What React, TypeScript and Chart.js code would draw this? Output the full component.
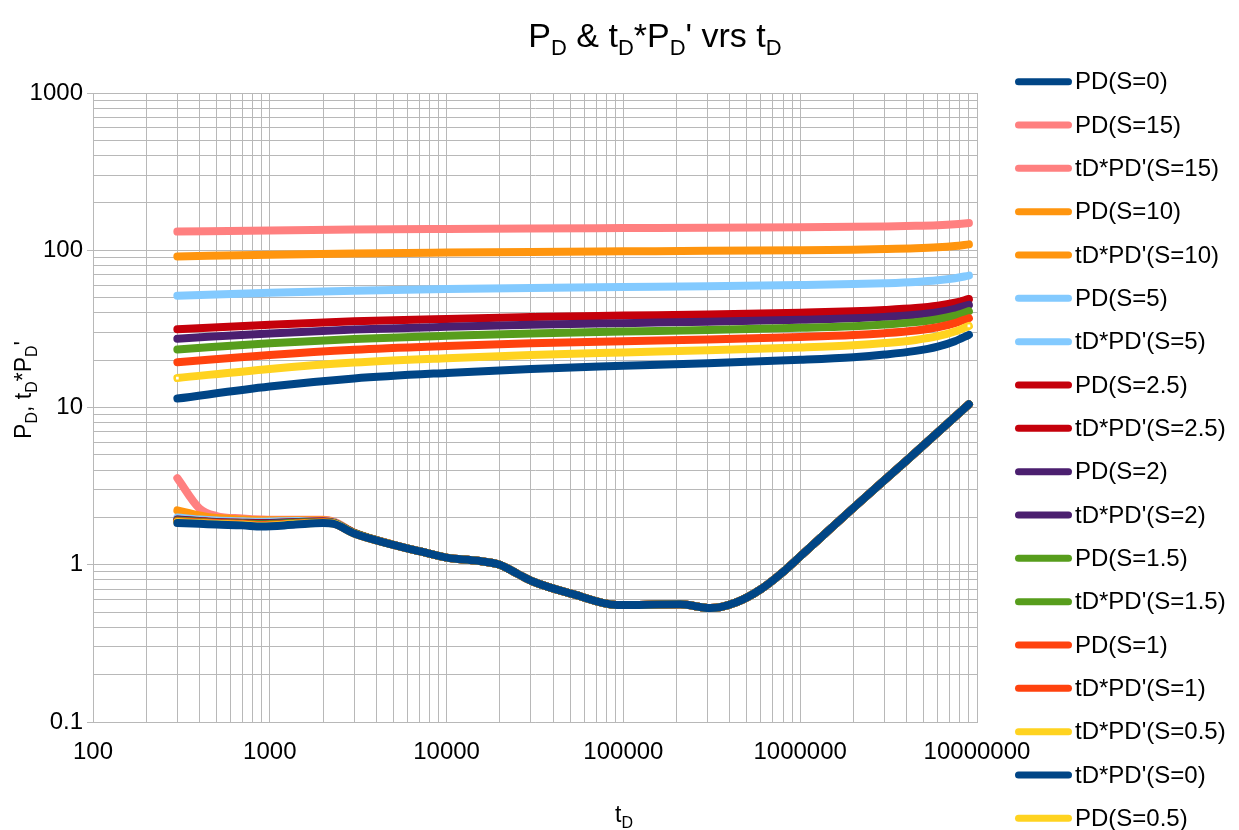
import React, { useEffect, useRef } from 'react';
import { Chart, registerables } from 'chart.js';

Chart.register(...registerables);

const FONT = '"Liberation Sans", Arial, Helvetica, sans-serif';

// Axis ticks
const X_MAJOR = [100, 1000, 10000, 100000, 1000000, 10000000];
const X_LABELS = ['100', '1000', '10000', '100000', '1000000', '10000000'];
const Y_MAJOR = [0.1, 1, 10, 100, 1000];
const Y_LABELS = ['0.1', '1', '10', '100', '1000'];

// PD curves (dimensionless pressure) sampled at these tD values
const TD_PD = [300, 1000, 3000, 10000, 30000, 100000, 300000, 1000000, 2000000, 3000000, 4500000, 6000000, 7500000, 9000000];
const PD_S0 = [11.4, 13.6, 15.3, 16.6, 17.6, 18.4, 19.1, 20.1, 20.9, 21.7, 22.9, 24.4, 26.4, 29.0];
const PD_S0_5 = [15.4, 17.6, 19.3, 20.6, 21.6, 22.4, 23.1, 24.1, 24.9, 25.7, 26.9, 28.4, 30.4, 33.0];
const PD_S1 = [19.4, 21.6, 23.3, 24.6, 25.6, 26.4, 27.1, 28.1, 28.9, 29.7, 30.9, 32.4, 34.4, 37.0];
const PD_S1_5 = [23.4, 25.6, 27.3, 28.6, 29.6, 30.4, 31.1, 32.1, 32.9, 33.7, 34.9, 36.4, 38.4, 41.0];
const PD_S2 = [27.4, 29.6, 31.3, 32.6, 33.6, 34.4, 35.1, 36.1, 36.9, 37.7, 38.9, 40.4, 42.4, 45.0];
const PD_S2_5 = [31.4, 33.6, 35.3, 36.6, 37.6, 38.4, 39.1, 40.1, 40.9, 41.7, 42.9, 44.4, 46.4, 49.0];
const PD_S5 = [51.4, 53.6, 55.3, 56.6, 57.6, 58.4, 59.1, 60.1, 60.9, 61.7, 62.9, 64.4, 66.4, 69.0];
const PD_S10 = [91.4, 93.6, 95.3, 96.6, 97.6, 98.4, 99.1, 100.1, 100.9, 101.7, 102.9, 104.4, 106.4, 109.0];
const PD_S15 = [131.4, 133.6, 135.3, 136.6, 137.6, 138.4, 139.1, 140.1, 140.9, 141.7, 142.9, 144.4, 146.4, 149.0];

// Derivative curves tD*PD' sampled at these tD values
const TD_DER = [300, 400, 500, 700, 900, 1400, 2000, 2300, 3000, 5000, 7000, 10000, 15000, 20000, 25000, 31000, 52000, 92000, 210000, 310000, 440000, 600000, 800000, 1000000, 1300000, 2000000, 4000000, 9000000];
// common late-time part (from tD = 5000 on)
const DER_TAIL = [1.34, 1.22, 1.11, 1.06, 1.00, 0.88, 0.78, 0.65, 0.555, 0.56, 0.53, 0.58, 0.70, 0.90, 1.13, 1.48, 2.3, 4.6, 10.5];
const DER_S0 = [1.84, 1.82, 1.80, 1.78, 1.75, 1.80, 1.84, 1.82, 1.58, ...DER_TAIL];
const DER_S0_5 = [1.87, 1.84, 1.82, 1.80, 1.77, 1.82, 1.85, 1.83, 1.58, ...DER_TAIL];
const DER_S1 = [1.89, 1.86, 1.84, 1.82, 1.79, 1.83, 1.86, 1.83, 1.58, ...DER_TAIL];
const DER_S1_5 = [1.91, 1.88, 1.85, 1.83, 1.81, 1.85, 1.87, 1.84, 1.59, ...DER_TAIL];
const DER_S2 = [1.93, 1.89, 1.86, 1.84, 1.83, 1.86, 1.88, 1.85, 1.59, ...DER_TAIL];
const DER_S2_5 = [1.94, 1.90, 1.87, 1.85, 1.84, 1.87, 1.89, 1.85, 1.59, ...DER_TAIL];
const DER_S5 = [2.0, 1.94, 1.91, 1.89, 1.88, 1.90, 1.90, 1.86, 1.59, ...DER_TAIL];
const DER_S10 = [2.22, 2.06, 1.98, 1.94, 1.92, 1.92, 1.92, 1.87, 1.60, ...DER_TAIL];
const DER_S15 = [3.55, 2.28, 2.04, 1.97, 1.94, 1.93, 1.93, 1.88, 1.60, ...DER_TAIL];

const SERIES: { label: string; color: string; xs: number[]; ys: number[]; marker?: boolean }[] = [
  { label: 'PD(S=0)', color: '#004586', xs: TD_PD, ys: PD_S0 },
  { label: 'PD(S=15)', color: '#ff8080', xs: TD_PD, ys: PD_S15 },
  { label: "tD*PD'(S=15)", color: '#ff8080', xs: TD_DER, ys: DER_S15 },
  { label: 'PD(S=10)', color: '#ff950e', xs: TD_PD, ys: PD_S10 },
  { label: "tD*PD'(S=10)", color: '#ff950e', xs: TD_DER, ys: DER_S10 },
  { label: 'PD(S=5)', color: '#83caff', xs: TD_PD, ys: PD_S5 },
  { label: "tD*PD'(S=5)", color: '#83caff', xs: TD_DER, ys: DER_S5 },
  { label: 'PD(S=2.5)', color: '#c5000b', xs: TD_PD, ys: PD_S2_5 },
  { label: "tD*PD'(S=2.5)", color: '#c5000b', xs: TD_DER, ys: DER_S2_5 },
  { label: 'PD(S=2)', color: '#4b1f6f', xs: TD_PD, ys: PD_S2 },
  { label: "tD*PD'(S=2)", color: '#4b1f6f', xs: TD_DER, ys: DER_S2 },
  { label: 'PD(S=1.5)', color: '#579d1c', xs: TD_PD, ys: PD_S1_5 },
  { label: "tD*PD'(S=1.5)", color: '#579d1c', xs: TD_DER, ys: DER_S1_5 },
  { label: 'PD(S=1)', color: '#ff420e', xs: TD_PD, ys: PD_S1 },
  { label: "tD*PD'(S=1)", color: '#ff420e', xs: TD_DER, ys: DER_S1 },
  { label: "tD*PD'(S=0.5)", color: '#ffd320', xs: TD_DER, ys: DER_S0_5 },
  { label: "tD*PD'(S=0)", color: '#004586', xs: TD_DER, ys: DER_S0 },
  { label: 'PD(S=0.5)', color: '#ffd320', xs: TD_PD, ys: PD_S0_5, marker: true },
];

type Seg = { t: string; sub?: boolean };
const TITLE_SEGS: Seg[] = [
  { t: 'P' }, { t: 'D', sub: true }, { t: ' & t' }, { t: 'D', sub: true },
  { t: '*P' }, { t: 'D', sub: true }, { t: "' vrs t" }, { t: 'D', sub: true },
];
const XTITLE_SEGS: Seg[] = [{ t: 't' }, { t: 'D', sub: true }];
const YTITLE_SEGS: Seg[] = [
  { t: 'P' }, { t: 'D', sub: true }, { t: ', t' }, { t: 'D', sub: true },
  { t: '*P' }, { t: 'D', sub: true }, { t: "'" },
];

function buildTicks(majors: number[]) {
  const out: { value: number; major: boolean }[] = [];
  for (let i = 0; i < majors.length; i++) {
    out.push({ value: majors[i], major: true });
    if (i < majors.length - 1) {
      for (let k = 2; k <= 9; k++) out.push({ value: majors[i] * k, major: false });
    }
  }
  return out;
}

function majorIndex(majors: number[], v: number) {
  for (let i = 0; i < majors.length; i++) {
    if (Math.abs(v - majors[i]) / majors[i] < 1e-6) return i;
  }
  return -1;
}

function drawRich(ctx: CanvasRenderingContext2D, segs: Seg[], cx: number, baseY: number, size: number, subSize: number, subDrop: number) {
  const mainFont = `${size}px ${FONT}`;
  const subFont = `${subSize}px ${FONT}`;
  let total = 0;
  for (const s of segs) {
    ctx.font = s.sub ? subFont : mainFont;
    total += ctx.measureText(s.t).width;
  }
  let x = cx - total / 2;
  ctx.textAlign = 'left';
  ctx.textBaseline = 'alphabetic';
  ctx.fillStyle = '#000000';
  for (const s of segs) {
    ctx.font = s.sub ? subFont : mainFont;
    ctx.fillText(s.t, x, s.sub ? baseY + subDrop : baseY);
    x += ctx.measureText(s.t).width;
  }
}

const GRID = '#b8b8b8';

const decorPlugin = {
  id: 'decor',
  afterDraw(chart: any) {
    const ctx: CanvasRenderingContext2D = chart.ctx;
    ctx.save();
    drawRich(ctx, TITLE_SEGS, 655, 47, 34, 22, 8);
    drawRich(ctx, XTITLE_SEGS, 624, 822, 23, 16, 6);
    ctx.save();
    ctx.translate(31, 390);
    ctx.rotate(-Math.PI / 2);
    drawRich(ctx, YTITLE_SEGS, 0, 0, 23, 16, 6);
    ctx.restore();

    // legend
    const dsets = chart.data.datasets;
    for (let i = 0; i < dsets.length; i++) {
      const y = 81.7 + i * 43.33;
      ctx.strokeStyle = dsets[i].borderColor;
      ctx.lineWidth = 7;
      ctx.lineCap = 'round';
      ctx.beginPath();
      ctx.moveTo(1018.5, y);
      ctx.lineTo(1068.5, y);
      ctx.stroke();
      ctx.fillStyle = '#000000';
      ctx.font = `24px ${FONT}`;
      ctx.textAlign = 'left';
      ctx.textBaseline = 'middle';
      ctx.fillText(dsets[i].label, 1075, y + 1);
    }
    ctx.restore();
  },
};

export default function App() {
  const canvasRef = useRef<HTMLCanvasElement | null>(null);

  useEffect(() => {
    if (!canvasRef.current) return;
    const n = SERIES.length;
    const datasets = SERIES.map((s, i) => ({
      label: s.label,
      data: s.xs.map((x, j) => ({ x, y: s.ys[j] })),
      borderColor: s.color,
      backgroundColor: '#ffffff',
      borderWidth: 8,
      borderCapStyle: 'round' as const,
      borderJoinStyle: 'round' as const,
      cubicInterpolationMode: 'monotone' as const,
      fill: false,
      order: n - i,
      pointStyle: 'rect' as const,
      pointRadius: s.marker ? (c: any) => (c.dataIndex === 0 || c.dataIndex === s.xs.length - 1 ? 3 : 0) : 0,
      pointBorderWidth: 1.5,
      pointBorderColor: s.color,
      pointBackgroundColor: '#ffffff',
      pointHoverRadius: 0,
    }));

    const chart = new Chart(canvasRef.current, {
      type: 'line',
      data: { datasets },
      options: {
        animation: false,
        responsive: true,
        maintainAspectRatio: false,
        events: [],
        layout: { padding: { top: 93, right: 262, left: 0, bottom: 0 } },
        plugins: {
          legend: { display: false },
          title: { display: false },
          tooltip: { enabled: false },
        },
        scales: {
          x: {
            type: 'logarithmic',
            min: 100,
            max: 10000000,
            afterBuildTicks: (scale: any) => {
              scale.ticks = buildTicks(X_MAJOR);
            },
            afterFit: (scale: any) => {
              scale.height = 108;
            },
            ticks: {
              autoSkip: false,
              maxRotation: 0,
              minRotation: 0,
              padding: 16,
              color: '#000000',
              font: { family: FONT, size: 24 },
              callback: (v: any) => {
                const k = majorIndex(X_MAJOR, Number(v));
                return k >= 0 ? X_LABELS[k] : '';
              },
            },
            grid: {
              color: GRID,
              lineWidth: 1,
              drawTicks: false,
            },
            border: { display: true, color: GRID, width: 1 },
          },
          y: {
            type: 'logarithmic',
            min: 0.1,
            max: 1000,
            afterBuildTicks: (scale: any) => {
              scale.ticks = buildTicks(Y_MAJOR);
            },
            afterFit: (scale: any) => {
              scale.width = 93;
            },
            ticks: {
              autoSkip: false,
              padding: 4,
              color: '#000000',
              font: { family: FONT, size: 24 },
              callback: (v: any) => {
                const k = majorIndex(Y_MAJOR, Number(v));
                return k >= 0 ? Y_LABELS[k] : '';
              },
            },
            grid: {
              color: GRID,
              lineWidth: 1,
              drawTicks: true,
              tickLength: 6,
              tickColor: (c: any) => (c.tick && majorIndex(Y_MAJOR, c.tick.value) >= 0 ? GRID : 'rgba(0,0,0,0)'),
            },
            border: { display: true, color: GRID, width: 1 },
          },
        },
      },
      plugins: [decorPlugin],
    } as any);

    return () => chart.destroy();
  }, []);

  return (
    <div style={{ position: 'absolute', left: 0, top: 0, width: 1239, height: 830, background: '#ffffff' }}>
      <canvas ref={canvasRef} />
    </div>
  );
}
